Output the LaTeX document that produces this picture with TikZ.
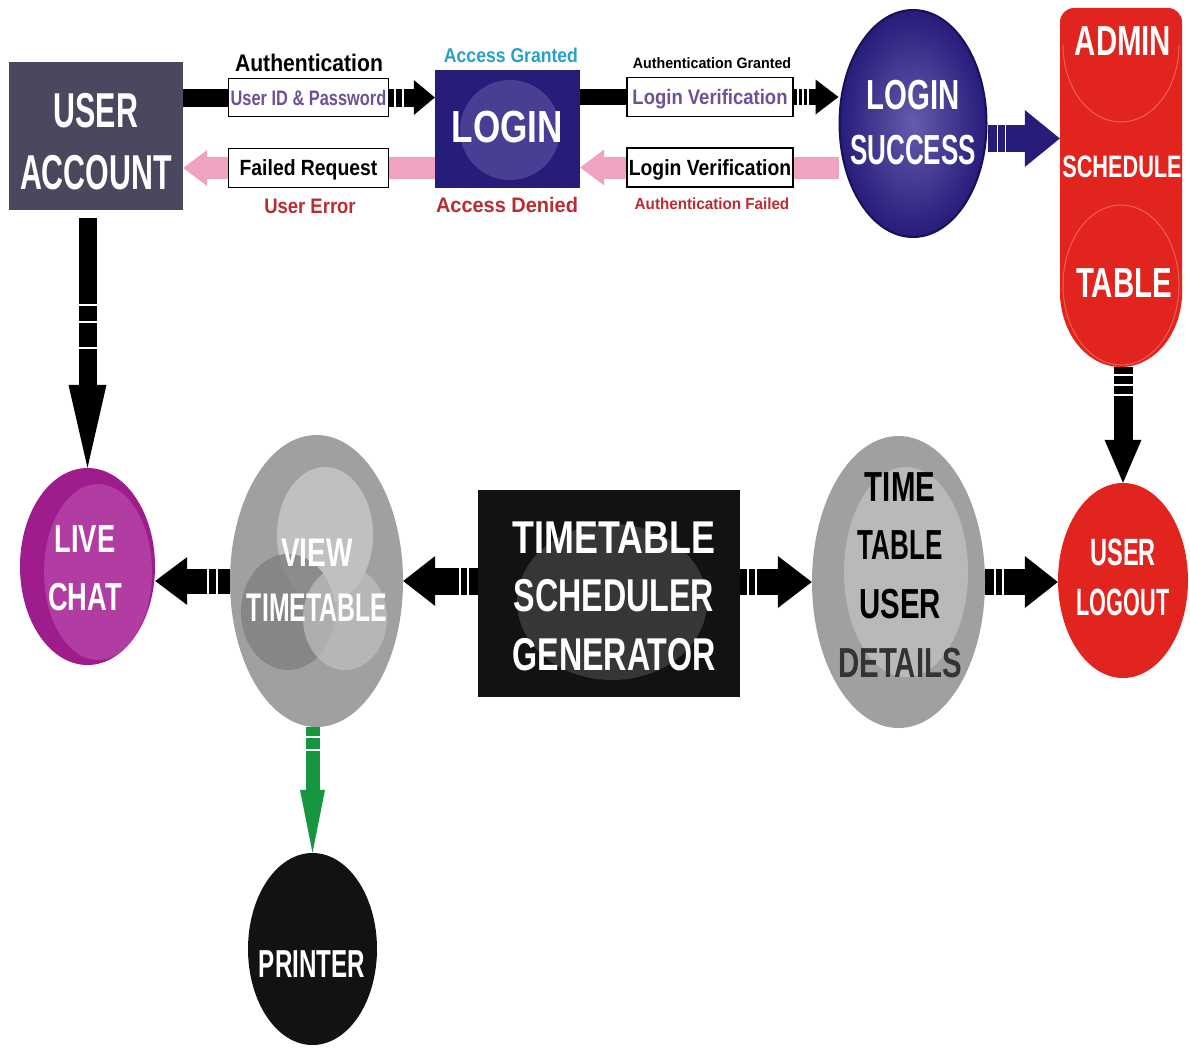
\documentclass[tikz,border=0pt]{standalone}
\usepackage{fontspec}
\usetikzlibrary{arrows.meta,shapes.geometric,decorations.markings,calc}
% condensed bold sans faces
\newfontfamily\condN{Liberation Sans}[FakeStretch=0.57]
\newfontfamily\condA{Liberation Sans}[FakeStretch=0.62]
\newfontfamily\condB{Liberation Sans}[FakeStretch=0.70]
\newfontfamily\condC{Liberation Sans}[FakeStretch=0.78]
\newfontfamily\condD{Liberation Sans}[FakeStretch=0.88]
\newfontfamily\condE{Liberation Sans}[FakeStretch=0.95]
\newcommand\setfnt[3]{\fontsize{#2pt}{#3pt}#1\bfseries}

\definecolor{slate}{RGB}{74,72,94}
\definecolor{navy}{RGB}{38,28,122}
\definecolor{navydk}{RGB}{25,16,90}
\definecolor{navylt}{RGB}{100,92,172}
\definecolor{adminred}{RGB}{226,36,30}
\definecolor{redline}{RGB}{240,95,85}
\definecolor{plum}{RGB}{158,28,140}
\definecolor{plumlt}{RGB}{192,84,178}
\definecolor{midgray}{RGB}{160,160,160}
\definecolor{ltgray}{RGB}{192,192,192}
\definecolor{dkgray}{RGB}{128,128,128}
\definecolor{pinkarrow}{RGB}{240,162,192}
\definecolor{purpletext}{RGB}{112,80,150}
\definecolor{errred}{RGB}{185,45,50}
\definecolor{grantcyan}{RGB}{40,160,200}
\definecolor{prgreen}{RGB}{22,150,62}
\definecolor{nearblack}{RGB}{18,18,18}

\pgfdeclarelayer{bg}
\pgfsetlayers{bg,main}

\begin{document}
\begin{tikzpicture}[x=1pt,y=-1pt,
  captxt/.style={inner sep=0pt, text height=#1, text depth=0pt},
  multitxt/.style={inner sep=0pt, align=center},
  lbox/.style={draw=black, line width=1.2pt, fill=white, inner sep=0pt,
               text height=#1, text depth=0pt},
  arr/.style n args={3}{line width=#1, -{Triangle[length=#2,width=#3,line width=0pt]}},
  gapcut/.style 2 args={postaction={decorate,decoration={markings,
      mark=at position #1 with {\draw[white,line width=1.6pt,-] (0pt,-#2) -- (0pt,#2);}}}}
]
\useasboundingbox (0,0) rectangle (1190,1049);

% ---------- main shapes ----------
\node[rectangle, fill=slate, minimum width=174pt, minimum height=148pt, inner sep=0pt] (ua) at (96,136) {};
\node[rectangle, fill=navy, minimum width=145pt, minimum height=118pt, inner sep=0pt] (login) at (507.5,129) {};
\fill[navylt, opacity=0.55] (510,130) ellipse [x radius=50pt, y radius=50pt];
\node[ellipse, draw=navydk, line width=2pt, shading=radial, inner color=navylt, outer color=navy,
      minimum width=147pt, minimum height=227pt] (ls) at (913,123.5) {};

% admin schedule table pill
\node[rectangle, minimum width=122pt, minimum height=359pt, inner sep=0pt] (admin) at (1121,187.5) {};
\fill[adminred, rounded corners=14pt] (1060,300) -- (1060,8) -- (1182,8) -- (1182,300);
\fill[adminred] (1121,292) ellipse [x radius=61pt, y radius=75pt];
\draw[redline, line width=1pt] (1063,45) arc[start angle=180, end angle=360, x radius=58pt, y radius=77pt];
\draw[redline, line width=1pt] (1121,285) ellipse [x radius=58pt, y radius=80pt];

\node[ellipse, fill=adminred, minimum width=130pt, minimum height=195pt] (logout) at (1123,580.5) {};
\node[ellipse, fill=plum, minimum width=135pt, minimum height=197pt] (live) at (87.5,566.5) {};
\fill[plumlt, opacity=0.6] (98,572) ellipse [x radius=54pt, y radius=88pt];

\node[ellipse, fill=midgray, minimum width=173pt, minimum height=292pt] (view) at (316.5,581) {};
\fill[ltgray] (325,535) ellipse [x radius=48pt, y radius=68pt];
\fill[dkgray, opacity=0.8] (288,612) ellipse [x radius=47pt, y radius=58pt];
\fill[ltgray, opacity=0.7] (345,618) ellipse [x radius=42pt, y radius=52pt];

\node[rectangle, fill=nearblack, minimum width=262pt, minimum height=207pt, inner sep=0pt] (tsg) at (609,593.5) {};
\fill[black!75, opacity=0.8] (612,602) ellipse [x radius=95pt, y radius=78pt];

\node[ellipse, fill=midgray, minimum width=173pt, minimum height=292pt] (ttud) at (898.5,582) {};
\fill[ltgray, opacity=0.8] (906,572) ellipse [x radius=62pt, y radius=105pt];

\node[ellipse, fill=nearblack, minimum width=129pt, minimum height=192pt] (printer) at (312.5,949) {};

% ---------- labelled boxes on the top connectors ----------
\node[lbox=15pt, minimum width=160pt, minimum height=38pt, text=purpletext, font=\setfnt\condC{21}{21}]
  (lb1) at (308.5,97.5) {User ID \& Password};
\node[lbox=15.8pt, minimum width=160pt, minimum height=39pt, text=black, font=\setfnt\condD{22}{22}]
  (lb2) at (308.5,168) {Failed Request};
\node[lbox=15pt, minimum width=166pt, minimum height=39pt, text=purpletext, font=\setfnt\condD{21}{21}]
  (lb3) at (710,97) {Login Verification};
\node[lbox=15.8pt, minimum width=166pt, minimum height=39pt, text=black, font=\setfnt\condD{22}{22}]
  (lb4) at (710,167.5) {Login Verification};

% ---------- captions ----------
\node[captxt=17.2pt, font=\setfnt\condD{24}{24}] (t-auth) at (309,63) {Authentication};
\node[captxt=15pt, text=errred, font=\setfnt\condD{21}{21}] (t-uerr) at (310,206) {User Error};
\node[captxt=14.3pt, text=grantcyan, font=\setfnt\condD{20}{20}] (t-ag) at (511,55) {Access Granted};
\node[captxt=15pt, text=errred, font=\setfnt\condE{21}{21}] (t-ad) at (507,205) {Access Denied};
\node[captxt=10.7pt, font=\setfnt\condE{15}{15}] (t-authg) at (712,63) {Authentication Granted};
\node[captxt=11.5pt, text=errred, font=\setfnt\condE{16}{16}] (t-authf) at (712,204) {Authentication Failed};

% ---------- shape texts ----------
\node[multitxt, text=white, font=\setfnt\condA{49}{62}] (ua-t) at (96,142) {USER\\ACCOUNT};
\node[captxt=32.2pt, text=white, font=\setfnt\condC{45}{45}] (login-t) at (507.5,126) {LOGIN};
\node[multitxt, text=white, font=\setfnt\condB{42}{55}] (ls-t) at (913,122.5) {{\condB LOGIN}\\{\condA SUCCESS}};
\node[captxt=30.1pt, text=white, font=\setfnt\condB{42}{42}] (admin-t1) at (1123,40) {ADMIN};
\node[captxt=22.2pt, text=white, font=\setfnt\condB{31}{31}] (admin-t2) at (1122,166) {SCHEDULE};
\node[captxt=30.1pt, text=white, font=\setfnt\condB{42}{42}] (admin-t3) at (1124,282) {TABLE};
\node[multitxt, text=white, font=\setfnt\condN{38}{50}] (logout-t) at (1123,577) {{\condA USER}\\{\condN LOGOUT}};
\node[multitxt, text=white, font=\setfnt\condB{39}{58}] (live-t) at (85,568) {LIVE\\CHAT};
\node[multitxt, text=white, font=\setfnt\condB{40}{55}] (view-t) at (317,580) {{\condB VIEW}\\{\condA TIMETABLE}};
\node[multitxt, text=white, font=\setfnt\condB{46}{58.5}] (tsg-t) at (614,596) {{\condC TIMETABLE}\\SCHEDULER\\GENERATOR};
\node[multitxt, text=black, font=\setfnt\condB{42}{58.7}] (ttud-t) at (900,575)
  {{\condB TIME}\\{\condA TABLE}\\{\condB USER}\\{\condB\color{black!80}DETAILS}};
\node[captxt=27.9pt, text=white, font=\setfnt\condA{39}{39}] (printer-t) at (312,964) {PRINTER};

% ---------- connectors (behind the shapes and label boxes) ----------
\begin{pgfonlayer}{bg}
  \fill[white] (0,0) rectangle (1190,1049);
  \draw[arr={18pt}{21pt}{35pt}, gapcut={212pt}{9pt}, gapcut={220pt}{9pt}]
    (ua.east |- lb1) -- (login.west |- lb1);
  \draw[pinkarrow, arr={22pt}{24pt}{36pt}] (login.west |- lb2) -- (ua.east |- lb2);
  \draw[arr={16pt}{23pt}{35pt}, gapcut={218pt}{8pt}, gapcut={223pt}{8pt}, gapcut={228pt}{8pt}]
    (login.east |- lb3) -- (ls.west |- lb3);
  \draw[pinkarrow, arr={22pt}{24pt}{36pt}] (ls.west |- lb4) -- (login.east |- lb4);
  \draw[navy, arr={27pt}{35pt}{57pt}, gapcut={10pt}{13.5pt}, gapcut={18pt}{13.5pt}]
    ([yshift=-15pt]ls.east) -- ([yshift=-15pt]ls.east -| admin.west);
  \draw[arr={18pt}{83pt}{38pt}, gapcut={87pt}{9pt}, gapcut={104pt}{9pt}, gapcut={130pt}{9pt}]
    ([yshift=-8pt]ua.south -| live.north) -- (live.north);
  \draw[arr={19pt}{43pt}{37pt}, gapcut={8pt}{9.5pt}, gapcut={18pt}{9.5pt}, gapcut={28pt}{9.5pt}]
    (admin.south -| logout.north) -- (logout.north);
  \draw[arr={25pt}{32pt}{48pt}, gapcut={13pt}{12.5pt}, gapcut={22pt}{12.5pt}]
    (view.west) -- (view.west -| live.east);
  \draw[arr={27pt}{32pt}{50pt}, gapcut={10pt}{13.5pt}, gapcut={18pt}{13.5pt}]
    (tsg.west |- view.east) -- (view.east);
  \draw[arr={26pt}{34pt}{52pt}, gapcut={8pt}{13pt}, gapcut={16pt}{13pt}]
    (tsg.east |- ttud.west) -- (ttud.west);
  \draw[arr={26pt}{33pt}{52pt}, gapcut={10pt}{13pt}, gapcut={18pt}{13pt}]
    (ttud.east) -- (ttud.east -| logout.west);
  \draw[prgreen, arr={14pt}{63pt}{25pt}, gapcut={10pt}{7pt}, gapcut={23pt}{7pt}]
    (view.south -| printer.north) -- (printer.north);
\end{pgfonlayer}
\end{tikzpicture}
\end{document}
